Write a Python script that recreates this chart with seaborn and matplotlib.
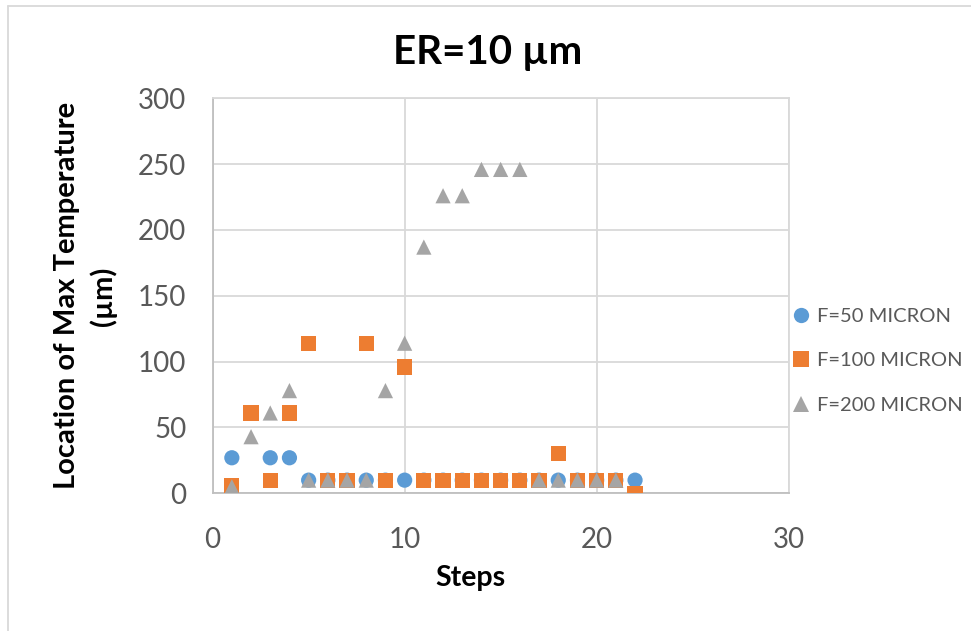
import numpy as np
import pandas as pd
import matplotlib
matplotlib.use("Agg")
import matplotlib.pyplot as plt
from matplotlib.lines import Line2D
import seaborn as sns

# Step numbers and peak-temperature locations (µm) per feed size
steps_50 = [1, 3, 4, 5, 6, 7, 8, 9, 10, 11, 12, 13, 14, 15, 16, 17, 18, 19, 20, 21, 22]
loc_50 = [27, 27, 27, 10, 10, 10, 10, 10, 10, 10, 10, 10, 10, 10, 10, 10, 10, 10, 10, 10, 10]

steps_100 = [1, 2, 3, 4, 5, 6, 7, 8, 9, 10, 11, 12, 13, 14, 15, 16, 17, 18, 19, 20, 21, 22]
loc_100 = [6, 61, 10, 61, 114, 10, 10, 114, 10, 96, 10, 10, 10, 10, 10, 10, 10, 30, 10, 10, 10, 0]

steps_200 = [1, 2, 3, 4, 5, 6, 7, 8, 9, 10, 11, 12, 13, 14, 15, 16, 17, 18, 19, 20, 21]
loc_200 = [5, 43, 61, 78, 10, 10, 10, 10, 78, 114, 187, 226, 226, 246, 246, 246, 10, 10, 10, 10, 10]

series_names = ["F=50 MICRON", "F=100 MICRON", "F=200 MICRON"]
x_ticks = [0, 10, 20, 30]
y_ticks = [0, 50, 100, 150, 200, 250, 300]

df = pd.concat([
    pd.DataFrame({"Steps": steps_50, "loc": loc_50, "series": series_names[0]}),
    pd.DataFrame({"Steps": steps_100, "loc": loc_100, "series": series_names[1]}),
    pd.DataFrame({"Steps": steps_200, "loc": loc_200, "series": series_names[2]}),
], ignore_index=True)

colors = {series_names[0]: "#5B9BD5", series_names[1]: "#ED7D31", series_names[2]: "#A5A5A5"}
markers = {series_names[0]: "o", series_names[1]: "s", series_names[2]: "^"}

sns.set_theme(style="white")
plt.rcParams["font.family"] = ["Lato", "DejaVu Sans"]

fig = plt.figure(figsize=(9.71, 6.31), dpi=100)
ax = fig.add_axes([0.219, 0.2182, 0.5932, 0.626])

sns.scatterplot(data=df, x="Steps", y="loc", hue="series", style="series",
                palette=colors, markers=markers, s=120, linewidth=0,
                hue_order=series_names, style_order=series_names,
                ax=ax, legend=False, zorder=3)

ax.set_xlim(0, 30)
ax.set_ylim(0, 300)
ax.set_xticks(x_ticks)
ax.set_yticks(y_ticks)
ax.tick_params(axis="both", length=0, labelsize=20, labelcolor="#595959")
ax.tick_params(axis="x", pad=24)
ax.tick_params(axis="y", pad=19)
ax.grid(True, color="#D9D9D9", linewidth=1.3)
ax.set_axisbelow(True)
for side, sp in ax.spines.items():
    sp.set_color("#D9D9D9" if side in ("top", "right") else "#BFBFBF")
    sp.set_linewidth(1.3)

ax.set_xlabel("Steps", fontsize=20.5, fontweight="bold", color="black")
ax.xaxis.set_label_coords(0.447, -0.182)
ax.set_ylabel("Location of Max Temperature\n(µm)", fontsize=21, fontweight="bold",
              color="black", linespacing=1.4)
ax.yaxis.set_label_coords(-0.166, 0.5)

fig.text(0.5026, 0.917, "ER=10 µm", ha="center", va="center",
         fontsize=29, fontweight="bold", color="black")

handles = [Line2D([], [], linestyle="none", marker=markers[n], color=colors[n],
                  markersize=11, markeredgewidth=0) for n in series_names]
leg = fig.legend(handles, series_names, loc="center left",
                 bbox_to_anchor=(0.808, 0.428), frameon=False,
                 fontsize=14.5, labelspacing=1.35, handlelength=0.8,
                 handletextpad=0.4, borderaxespad=0)
for t in leg.get_texts():
    t.set_color("#595959")

# Chart-area border (top and left edges)
fig.add_artist(Line2D([8 / 971, 1.0], [1 - 5.5 / 631, 1 - 5.5 / 631],
                      transform=fig.transFigure, color="#D9D9D9", linewidth=1.3))
fig.add_artist(Line2D([8 / 971, 8 / 971], [0.0, 1 - 5.5 / 631],
                      transform=fig.transFigure, color="#D9D9D9", linewidth=1.3))

fig.savefig("out.png", dpi=100, facecolor="white")
